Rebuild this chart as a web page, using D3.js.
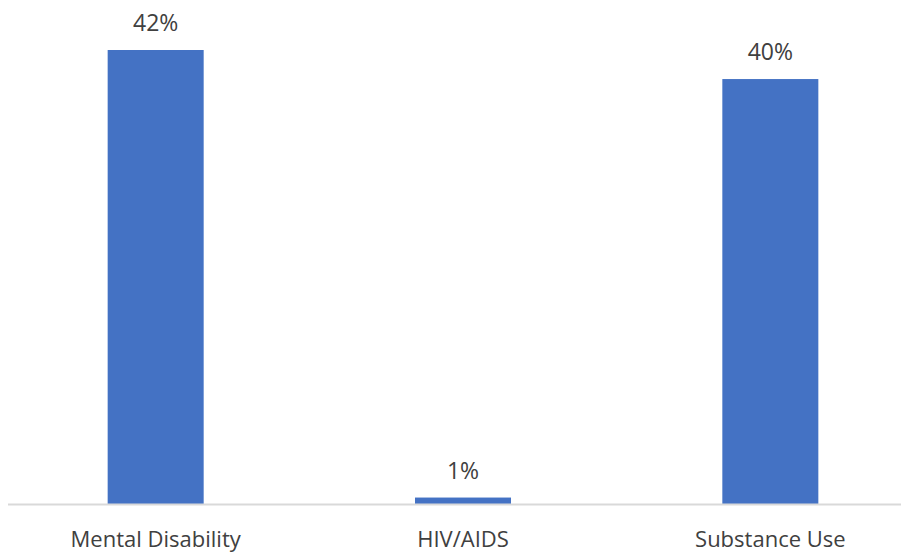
<!DOCTYPE html>
<html>
<head>
<meta charset="utf-8">
<script src="https://cdn.jsdelivr.net/npm/d3@7"></script>
<style>
  html, body { margin: 0; padding: 0; background: #ffffff; }
  svg { display: block; }
</style>
</head>
<body>
<div id="chart"></div>
<script>
const categories = ["Mental Disability", "HIV/AIDS", "Substance Use"];
const values = [42.2, 0.6, 39.5];
const valueLabels = ["42%", "1%", "40%"];

const W = 901, H = 552;
const baseY = 504;

const svg = d3.select("#chart").append("svg")
  .attr("width", W).attr("height", H);

const x = d3.scaleBand()
  .domain(categories)
  .range([2, 924])
  .paddingInner(0.6876)
  .paddingOuter(0.3438);

const y = d3.scaleLinear()
  .domain([0, 42.2])
  .range([baseY, 50]);

// bars
svg.selectAll("rect.bar")
  .data(categories)
  .enter().append("rect")
  .attr("class", "bar")
  .attr("x", d => x(d))
  .attr("width", x.bandwidth())
  .attr("y", (d, i) => y(values[i]))
  .attr("height", (d, i) => y(0) - y(values[i]))
  .attr("fill", "#4472C4");

// axis line
svg.append("line")
  .attr("x1", 8).attr("x2", W)
  .attr("y1", baseY + 0.5).attr("y2", baseY + 0.5)
  .attr("stroke", "#d9d9d9")
  .attr("stroke-width", 2);

// value labels
svg.selectAll("text.val")
  .data(categories)
  .enter().append("text")
  .attr("class", "val")
  .attr("x", d => x(d) + x.bandwidth() / 2)
  .attr("y", (d, i) => y(values[i]) - 19)
  .attr("text-anchor", "middle")
  .attr("font-family", "'Open Sans', sans-serif")
  .attr("font-size", 23)
  .attr("fill", "#404040")
  .text((d, i) => valueLabels[i]);

// category labels
const xAxis = d3.axisBottom(x).tickSize(0).tickPadding(0);
const gx = svg.append("g")
  .attr("transform", `translate(0,${baseY})`)
  .call(xAxis);
gx.select(".domain").remove();
gx.selectAll("text")
  .attr("dy", null)
  .attr("y", 43)
  .attr("font-family", "'Open Sans', sans-serif")
  .attr("font-size", 22)
  .attr("fill", "#404040");
</script>
</body>
</html>
